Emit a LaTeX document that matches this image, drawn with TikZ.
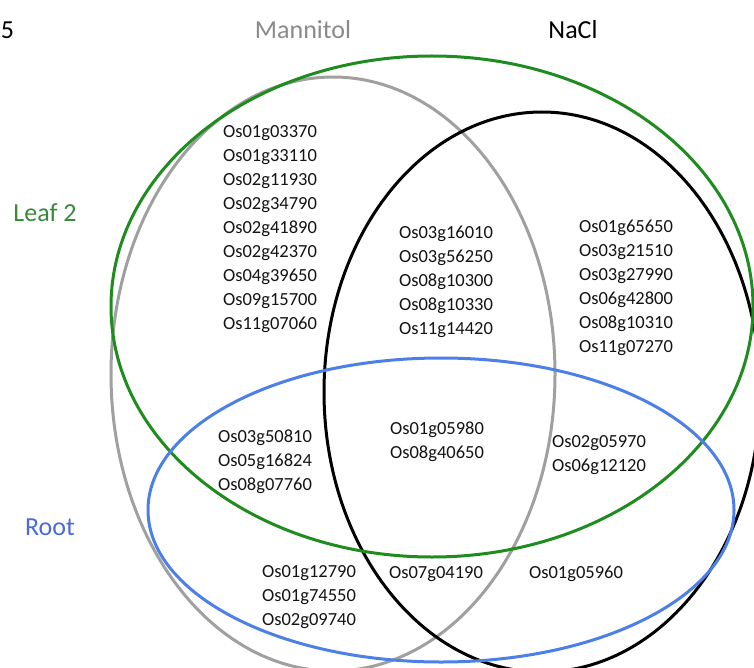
\documentclass[tikz,border=0pt]{standalone}
\usepackage{fontspec}
\setmainfont{Carlito}
\definecolor{ggreen}{HTML}{1E8C1E}
\definecolor{ggray}{HTML}{A0A0A0}
\definecolor{gblue}{HTML}{4D80E6}
\definecolor{lgreen}{HTML}{3A8A3A}
\definecolor{lgray}{HTML}{8A8A8A}
\definecolor{lblue}{HTML}{4A6CD4}
\definecolor{gtext}{HTML}{141414}
\begin{document}
\begin{tikzpicture}[x=1pt,y=-1pt,
  ring/.style={line width=3pt},
  genes/.style={font=\fontsize{18.5}{24}\selectfont, text=gtext, align=center, inner sep=0pt},
  setlabel/.style={font=\fontsize{26}{30}\selectfont, inner sep=0pt}]
\useasboundingbox[fill=white] (0,0) rectangle (754,668);
% sets
\draw[ring, ggray] (333,374) ellipse [x radius=222pt, y radius=297pt];
\draw[ring, black] (542,392) ellipse [x radius=218pt, y radius=280pt];
\draw[ring, ggreen] (432,306.5) ellipse [x radius=321pt, y radius=250.5pt];
\draw[ring, gblue] (441,510) ellipse [x radius=293pt, y radius=152pt];
% labels
\node[setlabel, text=black] (five) at (7.5,30) {5};
\node[setlabel, text=lgray] (mann) at (303,30) {Mannitol};
\node[setlabel, text=black] (nacl) at (573,30) {NaCl};
\node[setlabel, text=lgreen] (leaf) at (45,213) {Leaf 2};
\node[setlabel, text=lblue] (root) at (50,527) {Root};
% gene blocks
\node[genes] (b1) at (270,229) {Os01g03370\\Os01g33110\\Os02g11930\\Os02g34790\\Os02g41890\\Os02g42370\\Os04g39650\\Os09g15700\\Os11g07060};
\node[genes] (b2) at (446,282) {Os03g16010\\Os03g56250\\Os08g10300\\Os08g10330\\Os11g14420};
\node[genes] (b3) at (626,288) {Os01g65650\\Os03g21510\\Os03g27990\\Os06g42800\\Os08g10310\\Os11g07270};
\node[genes] (b4) at (265,462) {Os03g50810\\Os05g16824\\Os08g07760};
\node[genes] (b5) at (437,442) {Os01g05980\\Os08g40650};
\node[genes] (b6) at (599,455) {Os02g05970\\Os06g12120};
\node[genes] (b7) at (309,597) {Os01g12790\\Os01g74550\\Os02g09740};
\node[genes] (b8) at (436,574) {Os07g04190};
\node[genes] (b9) at (576,574) {Os01g05960};
\end{tikzpicture}
\end{document}
